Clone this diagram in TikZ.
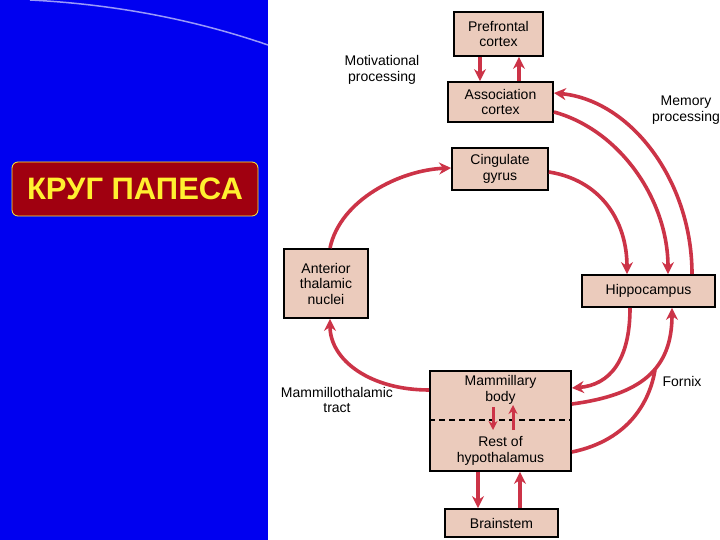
\documentclass[tikz,border=0pt]{standalone}
\usepackage{fontspec}
\setmainfont{Liberation Sans}
\usetikzlibrary{arrows.meta}
\definecolor{arr}{HTML}{CC3347}
\definecolor{boxf}{HTML}{EBCBBC}
\definecolor{bg}{HTML}{0000F0}
\definecolor{tbox}{HTML}{A00010}
\definecolor{ttext}{HTML}{FFF030}
\begin{document}
\begin{tikzpicture}[x=1pt,y=-1pt,
  bx/.style={draw=black,line width=1.8pt,fill=boxf,align=center,font=\fontsize{14}{15.5}\selectfont,inner sep=0pt},
  lab/.style={align=center,font=\fontsize{14}{15.5}\selectfont},
  ar/.style={draw=arr,line width=3.6pt,-{Stealth[length=12pt,width=12pt]}}]
\useasboundingbox (0,0) rectangle (720,540);
\fill[white] (0,0) rectangle (720,540);
\fill[bg] (0,0) rectangle (268,540);
\draw[white!60!bg,line width=1.5pt] (30,0) .. controls (130,5) and (210,25) .. (268,45);
\node[draw=ttext,line width=0.8pt,fill=tbox,rounded corners=6pt,minimum width=246pt,minimum height=54pt,inner sep=0pt,text=ttext,font=\fontsize{31}{33}\bfseries\selectfont] (title) at (135,189) {КРУГ ПАПЕСА};
\node[bx,minimum width=89pt,minimum height=44pt] (pf) at (498.5,34) {Prefrontal\\cortex};
\node[bx,minimum width=105pt,minimum height=40pt] (as) at (500.5,102) {Association\\cortex};
\node[bx,minimum width=96pt,minimum height=42pt] (cg) at (500,169) {Cingulate\\gyrus};
\node[bx,minimum width=84pt,minimum height=69pt] (at) at (326,283.5) {Anterior\\thalamic\\nuclei};
\node[bx,minimum width=133pt,minimum height=32pt] (hc) at (648.5,291) {Hippocampus};
\node[bx,minimum width=141pt,minimum height=100pt] (mb) at (500.5,421) {};
\node[lab] (mbt) at (500.5,390) {Mammillary\\body};
\node[lab] (rht) at (500.5,451) {Rest of\\hypothalamus};
\draw[dashed,dash pattern=on 6pt off 4pt,line width=1.8pt] (mb.west |- 0,420) coordinate (dl) -- (mb.east |- 0,420) coordinate (dr);
\node[bx,minimum width=113pt,minimum height=28pt] (bs) at (501.5,523) {Brainstem};
\node[lab] (l1) at (382,70) {Motivational\\processing};
\node[lab] (l2) at (686,110) {Memory\\processing};
\node[lab] (l3) at (337,400) {Mammillothalamic\\tract};
\node[lab] (l4) at (682,381) {Fornix};
% arrows
\draw[ar] (pf.south -| 480,0) -- (as.north -| 480,0);
\draw[ar] (as.north -| 519,0) -- (pf.south -| 519,0);
\draw[ar] (as.east |- 0,112) .. controls (620,130) and (668,200) .. (hc.north -| 668,0);
\draw[ar] (hc.north -| 692,0) .. controls (692,180) and (630,100) .. (as.east |- 0,93);
\draw[ar] (cg.east |- 0,172) .. controls (600,180) and (627,220) .. (hc.north -| 627,0);
\draw[ar] (hc.south -| 630,0) .. controls (630,360) and (610,385) .. (mb.east |- 0,388);
\draw[ar] (mb.east |- 0,404) .. controls (640,395) and (672,370) .. (hc.south -| 672,0);
\coordinate (fj) at (655,370);
\draw[draw=arr,line width=3.6pt] (mb.east |- 0,452) .. controls (630,440) and (650,400) .. (fj);
\draw[ar] (mb.west |- 0,390) .. controls (370,390) and (330,360) .. (at.south -| 330,0);
\draw[ar] (at.north -| 330,0) .. controls (340,200) and (400,170) .. (cg.west |- 0,168);
\draw[draw=arr,line width=3pt,-{Stealth[length=9pt,width=9pt]}] (493,407) -- (493,430);
\draw[draw=arr,line width=3pt,-{Stealth[length=9pt,width=9pt]}] (513,430) -- (513,405);
\draw[ar] (mb.south -| 478,0) -- (bs.north -| 478,0);
\draw[ar] (bs.north -| 520,0) -- (mb.south -| 520,0);
\end{tikzpicture}
\end{document}
